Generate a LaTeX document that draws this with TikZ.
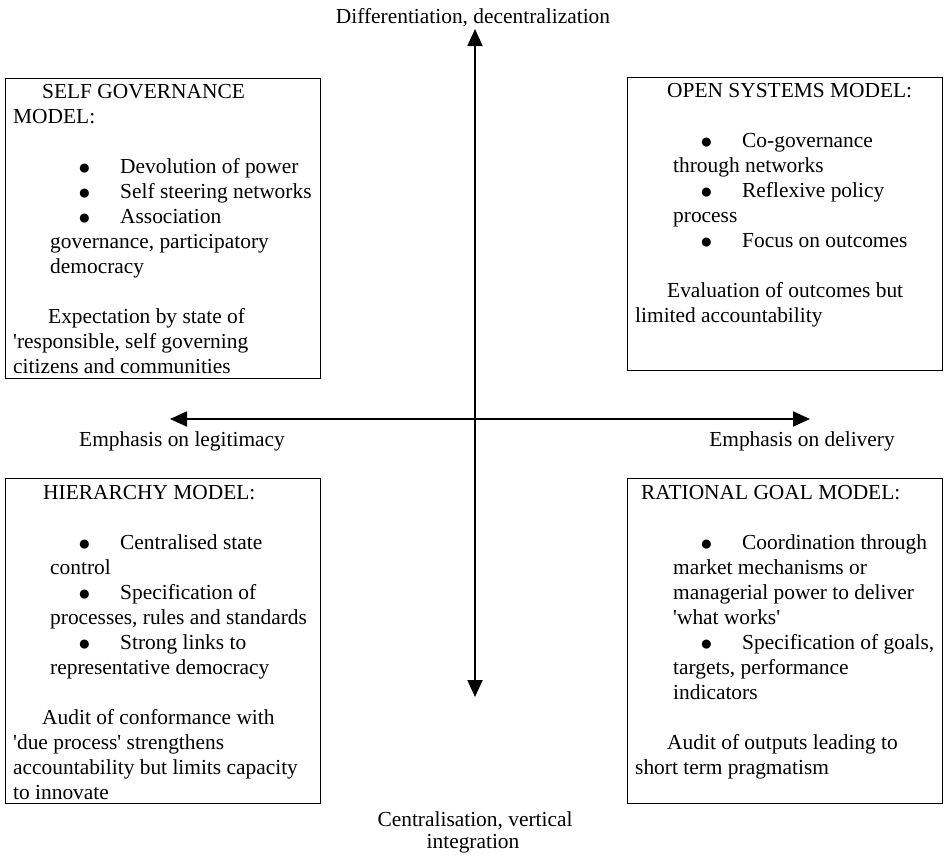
\documentclass[tikz,border=0pt]{standalone}
\usepackage{fontspec}
\setmainfont{Liberation Serif}
\usetikzlibrary{arrows.meta}

% bullet item: round bullet indented, text at a fixed tab
\newcommand\bigbullet{\smash{\raisebox{-1pt}{\fontsize{21}{21}\selectfont ●}}}
\newcommand\bitem[1]{\hspace*{65pt}\makebox[42pt][l]{\bigbullet}#1}
\newcommand\ind[1]{\hspace*{#1pt}}

\begin{document}
\begin{tikzpicture}[x=1pt,y=-1pt,
  txt/.style={font=\fontsize{21.4}{25}\selectfont, inner sep=0pt},
  frame/.style={draw, line width=1.2pt, inner sep=0pt, anchor=north west,
                minimum width=315pt, minimum height=#1},
  boxtext/.style={txt, anchor=base west},
  axis/.style={line width=1.8pt,
               {Triangle[length=17pt,width=15pt]}-{Triangle[length=17pt,width=15pt]}}
]
\useasboundingbox (0,0) rectangle (945,855);

% ---- axes ----
\coordinate (north) at (475,29);
\coordinate (south) at (475,697);
\coordinate (west)  at (170,419);
\coordinate (east)  at (810,419);
\draw[axis] (south) -- (north);
\draw[axis] (west) -- (east);

% ---- axis labels ----
\node[txt, anchor=base] (dec)  at (473,23)  {Differentiation, decentralization};
\node[txt, anchor=base] (leg)  at (182,446) {Emphasis on legitimacy};
\node[txt, anchor=base] (del)  at (802,446) {Emphasis on delivery};
\node[txt, anchor=base] (cen1) at (475,826) {Centralisation, vertical};
\node[txt, anchor=base] (cen2) at (473,848) {integration};

% ---- self governance model ----
\node[frame=300pt] (sgframe) at (5,78) {};
\node[boxtext] (sgtext) at (13,98) {\parbox[t]{320pt}{\raggedright
\ind{29}SELF GOVERNANCE\\
MODEL:\\[25pt]
\bitem{Devolution of power}\\
\bitem{Self steering networks}\\
\bitem{Association}\\
\ind{37}governance, participatory\\
\ind{37}democracy\\[25pt]
\ind{35}Expectation by state of\\
\textquotesingle responsible, self governing\\
citizens and communities}};

% ---- open systems model ----
\node[frame=293pt] (osframe) at (627,77) {};
\node[boxtext] (ostext) at (635,97) {\parbox[t]{320pt}{\raggedright
\ind{32}OPEN SYSTEMS MODEL:\\[25pt]
\bitem{Co-governance}\\
\ind{38}through networks\\
\bitem{Reflexive policy}\\
\ind{38}process\\
\bitem{Focus on outcomes}\\[25pt]
\ind{32}Evaluation of outcomes but\\
limited accountability}};

% ---- hierarchy model ----
\node[frame=325pt] (hmframe) at (5,478) {};
\node[boxtext] (hmtext) at (13,499) {\parbox[t]{320pt}{\raggedright
\ind{30}HIERARCHY MODEL:\\[25pt]
\bitem{Centralised state}\\
\ind{37}control\\
\bitem{Specification of}\\
\ind{37}processes, rules and standards\\
\bitem{Strong links to}\\
\ind{37}representative democracy\\[25pt]
\ind{29}Audit of conformance with\\
\textquotesingle due process\textquotesingle{} strengthens\\
accountability but limits capacity\\
to innovate}};

% ---- rational goal model ----
\node[frame=325pt] (rgframe) at (627,478) {};
\node[boxtext] (rgtext) at (635,499) {\parbox[t]{320pt}{\raggedright
\ind{6}RATIONAL GOAL MODEL:\\[25pt]
\bitem{Coordination through}\\
\ind{38}market mechanisms or\\
\ind{38}managerial power to deliver\\
\ind{38}\textquotesingle what works\textquotesingle\\
\bitem{Specification of goals,}\\
\ind{38}targets, performance\\
\ind{38}indicators\\[25pt]
\ind{32}Audit of outputs leading to\\
short term pragmatism}};

\end{tikzpicture}
\end{document}
